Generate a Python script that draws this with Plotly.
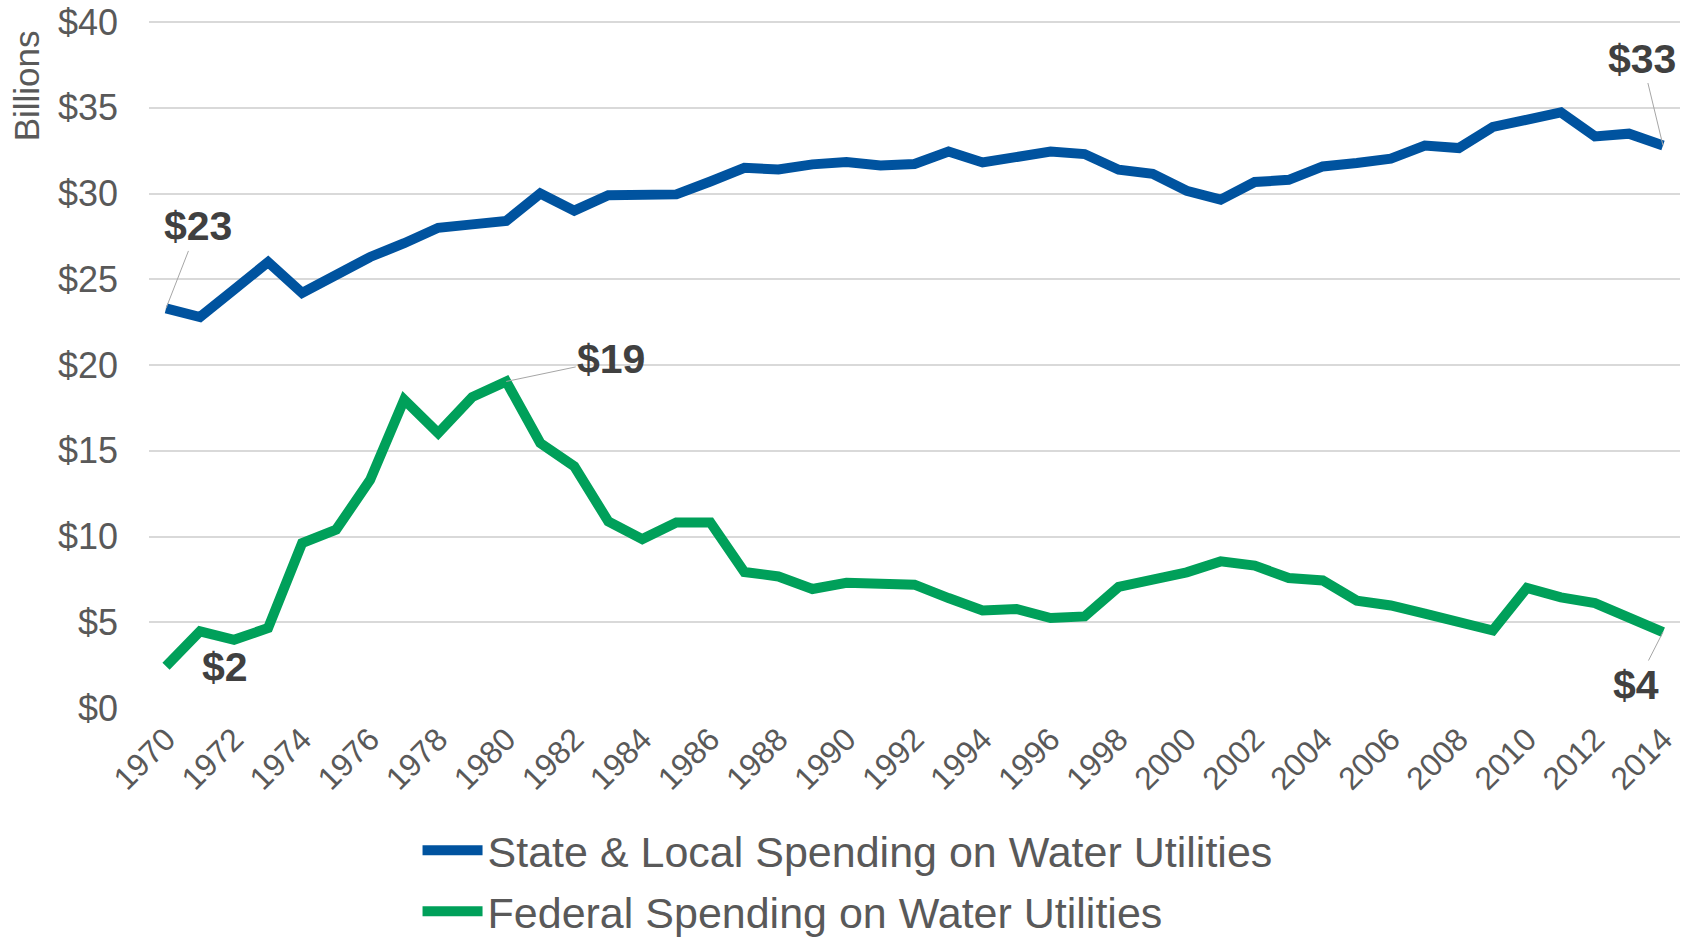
import plotly.graph_objects as go

years = list(range(1970, 2015))
state_local = [23.3, 22.8, 24.4, 26.0, 24.2, 25.2, 26.3, 27.1, 28.0, 28.2, 28.4,
               30.0, 29.0, 29.9, 29.9, 29.95, 30.7, 31.5, 31.4, 31.7, 31.84,
               31.64, 31.72, 32.45, 31.81, 32.2, 32.45, 32.3, 31.39, 31.15, 30.16,
               29.64, 30.67, 30.8, 31.58, 31.78, 32.03, 32.8, 32.65, 33.88, 34.36,
               34.73, 33.33, 33.49, 32.8]
federal = [2.43, 4.47, 3.98, 4.66, 9.62, 10.4, 13.3, 17.98, 16.03, 18.13, 19.04,
           15.45, 14.09, 10.88, 9.85, 10.82, 10.82, 7.93, 7.67, 6.94, 7.3,
           7.25, 7.19, 6.41, 5.69, 5.77, 5.25, 5.34, 7.06, 7.48, 7.91,
           8.55, 8.3, 7.58, 7.44, 6.26, 5.98, 5.5, 4.99, 4.52, 7.0,
           6.45, 6.12, 5.25, 4.43]
y_ticks = [0, 5, 10, 15, 20, 25, 30, 35, 40]
y_tick_labels = ["$0", "$5", "$10", "$15", "$20", "$25", "$30", "$35", "$40"]
series_names = ["State & Local Spending on Water Utilities",
                "Federal Spending on Water Utilities"]
callouts = [  # (series index, year, label)
    (0, 1970, "$23"), (0, 2014, "$33"),
    (1, 1970, "$2"), (1, 1980, "$19"), (1, 2014, "$4"),
]

BLUE = "#00539F"
GREEN = "#00A05A"
FONT = "Liberation Sans, Arial, sans-serif"

fig = go.Figure()
fig.add_trace(go.Scatter(x=years, y=state_local, mode="lines", name=series_names[0],
                         line=dict(color=BLUE, width=10), legendgroup="a"))
fig.add_trace(go.Scatter(x=years, y=federal, mode="lines", name=series_names[1],
                         line=dict(color=GREEN, width=10), legendgroup="b"))

series = [state_local, federal]
offsets = {  # pixel offsets of label text from data point (layout only)
    (0, 1970): (32, -82, True),
    (0, 2014): (-21, -87, True),
    (1, 1970): (59, 1, False),
    (1, 1980): (105, -22, True),
    (1, 2014): (-27, 53, True),
}
for si, yr, label in callouts:
    yv = series[si][years.index(yr)]
    ax, ay, arrow = offsets[(si, yr)]
    txt = "<b>" + label + "</b>"
    if arrow:
        fig.add_annotation(x=yr, y=yv, text=txt, showarrow=True, arrowhead=0,
                           arrowwidth=1, arrowcolor="#A6A6A6", ax=ax, ay=ay,
                           font=dict(family=FONT, size=41, color="#404040"),
                           standoff=0, startstandoff=0)
    else:
        fig.add_annotation(x=yr, y=yv, text=txt, showarrow=False,
                           xshift=ax, yshift=-ay,
                           font=dict(family=FONT, size=41, color="#404040"))

fig.add_annotation(xref="paper", yref="paper", x=-0.0803, y=0.905, text="Billions",
                   textangle=-90, showarrow=False, xanchor="center", yanchor="middle",
                   font=dict(family=FONT, size=35, color="#595959"))

fig.update_layout(
    width=1689, height=937,
    margin=dict(l=149, r=9, t=21, b=229, autoexpand=False),
    paper_bgcolor="white", plot_bgcolor="white",
    font=dict(family=FONT, color="#595959"),
    showlegend=True,
    legend=dict(orientation="v", x=0.1754, y=-0.157, xanchor="left", yanchor="top",
                font=dict(family=FONT, size=43, color="#595959"),
                traceorder="grouped", tracegroupgap=2, itemwidth=60,
                bgcolor="rgba(0,0,0,0)"),
    xaxis=dict(range=[1969.5, 2014.5], tick0=1970, dtick=2, tickangle=-45,
               showgrid=False, zeroline=False, showline=False, ticks="",
               ticklabelstandoff=5, ticklabeloverflow="allow",
               tickfont=dict(family=FONT, size=32, color="#595959")),
    yaxis=dict(range=[0, 40.06], tickvals=y_ticks, ticktext=y_tick_labels,
               showgrid=True, gridcolor="#D9D9D9", gridwidth=2, zeroline=False,
               showline=False, ticks="", ticklabelstandoff=30,
               ticklabeloverflow="allow",
               tickfont=dict(family=FONT, size=36, color="#595959")),
)
fig.write_html("out.html", config={"displayModeBar": False},
               post_script="document.body.style.margin='0';")
